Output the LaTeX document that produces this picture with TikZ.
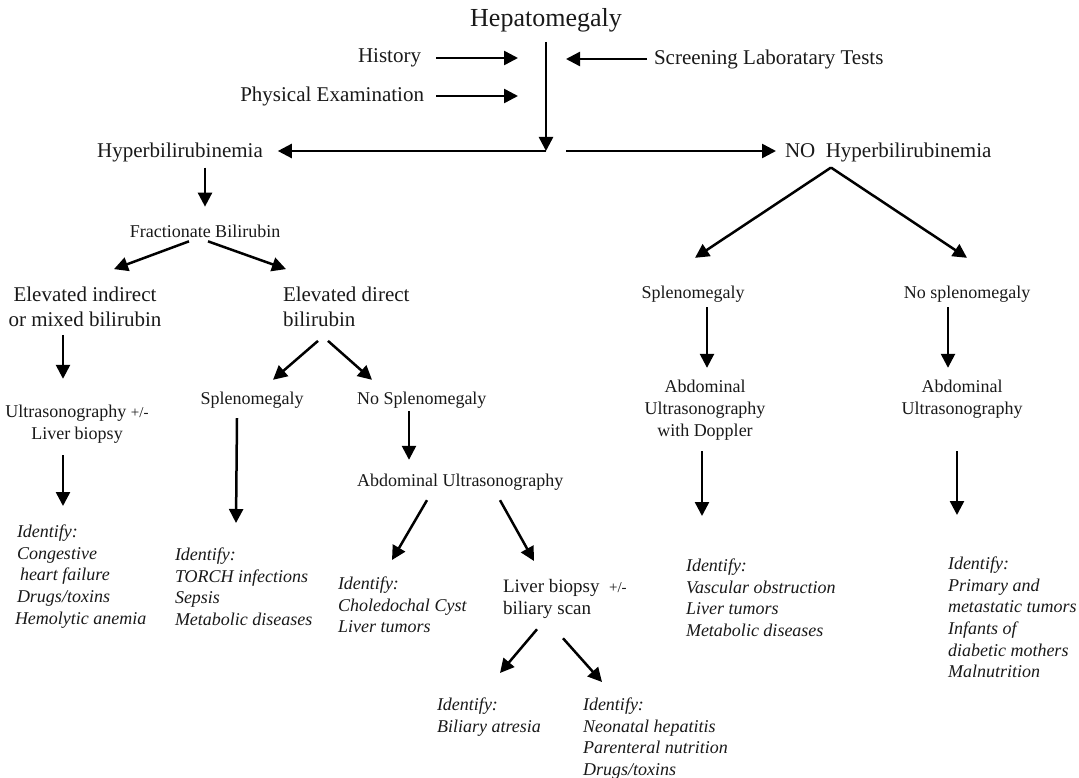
\documentclass[tikz,border=0pt]{standalone}
\usepackage{fontspec}
\setmainfont{Liberation Serif}
\usetikzlibrary{arrows.meta,calc}
\newcommand\FntBig{\fontsize{26}{30}\selectfont}
\newcommand\FntMed{\fontsize{21}{25}\selectfont}
\newcommand\FntSm{\fontsize{18}{22}\selectfont}
\newcommand\FntLb{\fontsize{19}{22}\selectfont}
\newcommand\FntTiny{\fontsize{15}{15}\selectfont}
\newcommand\FntIt{\fontsize{18}{21.6}\selectfont\itshape}
\begin{document}
\begin{tikzpicture}[x=1pt,y=-1pt,
  txt/.style={inner sep=0pt,outer sep=0pt,font=\FntMed,text=black!90},
  sm/.style={txt,font=\FntSm},
  lb/.style={txt,font=\FntLb},
  itx/.style={txt,font=\FntIt,align=left,anchor=north west},
  arr/.style={line width=2.5pt,-{Triangle[length=14pt,width=14pt]}}]
\useasboundingbox[fill=white] (0,0) rectangle (1079,778);

% top
\node[txt,font=\FntBig] (hep) at (546,20) {Hepatomegaly};
\node[txt,anchor=east] (hist) at (421,58) {History};
\node[txt,anchor=east] (phys) at (424,96) {Physical Examination};
\node[txt,anchor=west] (screen) at (654,59) {Screening Laboratary Tests};
\coordinate (junc) at (546,151);
\node[txt] (hyper) at (180,152) {Hyperbilirubinemia};
\node[txt,anchor=west] (nohyper) at (785,152) {NO\ \ Hyperbilirubinemia};

% left branch
\node[sm] (frac) at (205,231) {Fractionate Bilirubin};
\node[txt,align=center] (elind) at (85,307) {Elevated indirect\\or mixed bilirubin};
\node[txt,align=left,anchor=west] (eldir) at (283,307) {Elevated direct\\bilirubin};
\node[sm,align=center] (us) at (77,424) {Ultrasonography {\FntTiny+/-}\\Liver biopsy};
\node[sm] (splL) at (252,400) {Splenomegaly};
\node[sm,anchor=west] (nosplM) at (357,400) {No Splenomegaly};
\node[sm,anchor=west] (abdM) at (357,482) {Abdominal Ultrasonography};
\node[lb,align=left,anchor=north west] (lbiop) at (503,579) {Liver biopsy\ \ {\FntTiny+/-}\\biliary scan};

\node[itx] (idL) at (17,525) {Identify:\\Congestive\\\hspace*{3pt}heart failure\\Drugs/toxins\\\hspace*{-2pt}Hemolytic anemia};
\node[itx] (idM) at (175,548) {Identify:\\TORCH infections\\Sepsis\\Metabolic diseases};
\node[itx] (idC) at (338,577) {Identify:\\Choledochal Cyst\\Liver tumors};
\node[itx] (idB) at (437,698) {Identify:\\Biliary atresia};
\node[itx] (idN) at (583,698) {Identify:\\Neonatal hepatitis\\Parenteral nutrition\\Drugs/toxins};

% right branch
\node[sm] (splR) at (693,294) {Splenomegaly};
\node[sm] (nosplR) at (967,294) {No splenomegaly};
\node[sm,align=center] (abdR) at (705,410) {Abdominal\\Ultrasonography\\with Doppler};
\node[sm,align=center] (abdR2) at (962,399) {Abdominal\\Ultrasonography};
\node[itx] (idV) at (686,559) {Identify:\\Vascular obstruction\\Liver tumors\\Metabolic diseases};
\node[itx] (idP) at (948,557) {Identify:\\Primary and\\metastatic tumors\\Infants of\\diabetic mothers\\Malnutrition};

% arrows top
\draw[arr] ($(hep.south)+(0,10)$) -- (junc);
\draw[line width=2.5pt] (junc) -- ++(-4,0);
\draw[arr] (junc) -- ($(hyper.east |- junc)+(15,0)$);
\draw[arr] ($(junc)+(20,0)$) -- ($(nohyper.west |- junc)+(-9,0)$);
\draw[arr] ($(hist.east)+(15,0)$) -- ++(82,0);
\draw[arr] ($(phys.east)+(12,0)$) -- ++(82,0);
\draw[arr] ($(screen.west)+(-7,0)$) -- ++(-81,0);

% arrows left
\draw[arr] ($(hyper.south -| frac.north)+(0,6)$) -- ($(frac.north)+(0,-18)$);
\draw[arr] ($(frac.south)+(-16,4)$) -- ($(elind.north)+(29,-18)$);
\draw[arr] ($(frac.south)+(3,4)$) -- ($(eldir.north west)+(3,-18)$);
\draw[arr] ($(elind.south)+(-22,8)$) -- ($(us.north)+(-14,-26)$);
\draw[arr] ($(us.south)+(-14,12)$) -- ($(idL.north west)+(46,-19)$);
\draw[arr] ($(eldir.south west)+(35,14)$) -- ($(splL.north)+(21,-12)$);
\draw[arr] ($(eldir.south west)+(45,14)$) -- ($(nosplM.north west)+(15,-12)$);
\draw[arr] ($(splL.south)+(-15,10)$) -- ($(idM.north west)+(61,-25)$);
\draw[arr] ($(nosplM.south west)+(52,3)$) -- ($(abdM.north west)+(52,-14)$);
\draw[arr] ($(abdM.south west)+(70,10)$) -- ($(idC.north west)+(54,-17)$);
\draw[arr] ($(abdM.south west)+(143,10)$) -- ($(lbiop.north west)+(31,-18)$);
\draw[arr] ($(lbiop.south west)+(34,11)$) -- ($(idB.north west)+(63,-25)$);
\draw[arr] ($(lbiop.south west)+(60,20)$) -- ($(idN.north west)+(19,-16)$);

% arrows right
\draw[arr] ($(nohyper.south west)+(46,6)$) -- ($(splR.north)+(2,-28)$);
\draw[arr] ($(nohyper.south west)+(46,6)$) -- ($(nosplR.north)+(0,-28)$);
\draw[arr] ($(splR.south)+(14,5)$) -- ($(abdR.north)+(2,-12)$);
\draw[arr] ($(abdR.south)+(-3,11)$) -- ($(idV.north west)+(16,-43)$);
\draw[arr] ($(nosplR.south)+(-19,5)$) -- ($(abdR2.north)+(-14,-12)$);
\draw[arr] ($(abdR2.south)+(-5,33)$) -- ($(idP.north west)+(9,-42)$);
\end{tikzpicture}
\end{document}
